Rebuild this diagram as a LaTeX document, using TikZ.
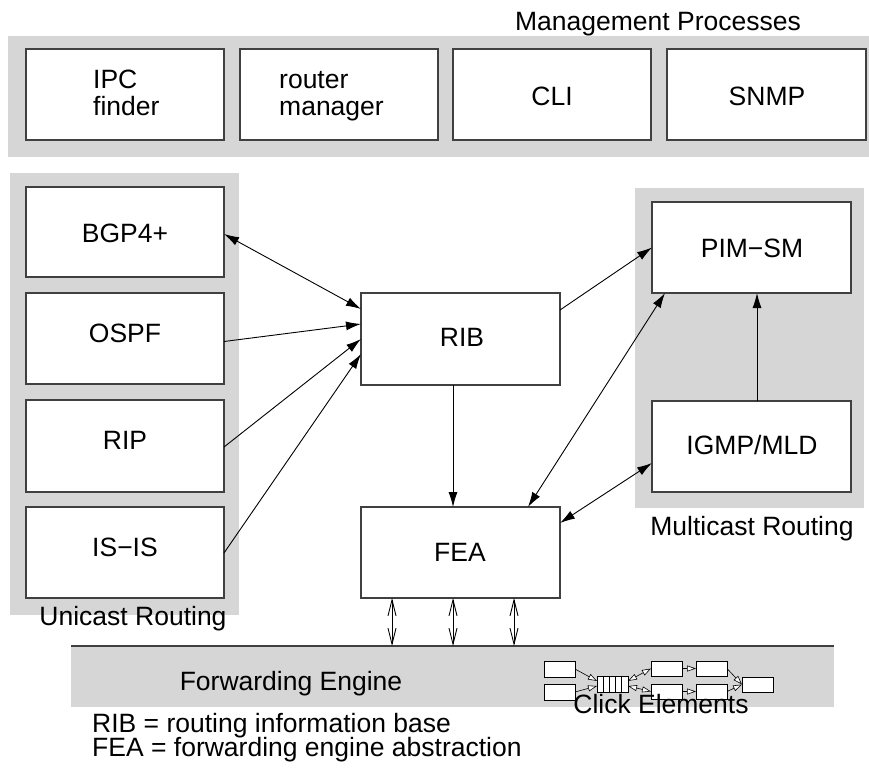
\documentclass[tikz,border=0pt]{standalone}
\usepackage{fontspec}
\setmainfont{Liberation Sans}
\usetikzlibrary{arrows.meta}
\definecolor{bandgray}{HTML}{D6D6D6}
\definecolor{edgegray}{HTML}{404040}
\begin{document}
\begin{tikzpicture}[x=1pt,y=-1pt,
  box/.style={draw=edgegray, fill=white, line width=1.1pt, inner sep=0pt, outer sep=0pt, minimum width=198pt, minimum height=91pt},
  band/.style={fill=bandgray, draw=none, inner sep=0pt, outer sep=0pt},
  lbl/.style={font=\fontsize{26.5}{27}\selectfont, inner sep=0pt, anchor=base},
  lblw/.style={font=\fontsize{26.5}{27}\selectfont, inner sep=0pt, anchor=base west},
  conn/.style={line width=0.9pt, -{Latex[length=15pt,width=9pt]}},
  dconn/.style={line width=0.9pt, {Latex[length=15pt,width=9pt]}-{Latex[length=15pt,width=9pt]}},
  barb/.style={line width=0.9pt, {Straight Barb[length=16pt,width=8pt]}-{Straight Barb[length=16pt,width=8pt]}},
  cbox/.style={draw=black, fill=white, line width=0.8pt, inner sep=0pt, outer sep=0pt, minimum width=31pt, minimum height=15pt},
  carrow/.style={line width=0.6pt, -{Triangle[fill=white, length=9pt, width=6pt]}},
  cdarrow/.style={line width=0.6pt, {Triangle[fill=white, length=9pt, width=6pt]}-{Triangle[fill=white, length=9pt, width=6pt]}},
]
\useasboundingbox (0,0) rectangle (869,770);

% background bands
\node[band, minimum width=861pt, minimum height=121pt] (mgmt) at (438.5,96.5) {};
\node[band, minimum width=229pt, minimum height=442pt] (uni) at (124.5,394) {};
\node[band, minimum width=229pt, minimum height=320pt] (multi) at (749.5,348) {};
\node[band, minimum width=763pt, minimum height=61pt] (fe) at (452.5,676.5) {};
\draw[line width=1.1pt, edgegray] (fe.north west) -- (fe.north east);

% management boxes
\node[box] (ipc) at (125,94.5) {};
\node[box] (rman) at (339,94.5) {};
\node[box] (cli) at (552,94.5) {};
\node[box, minimum width=199pt] (snmp) at (766.5,94.5) {};

% unicast boxes
\node[box, minimum height=90pt] (bgp) at (125,232) {};
\node[box] (ospf) at (125,338.5) {};
\node[box, minimum height=92pt] (rip) at (125,446) {};
\node[box] (isis) at (125,552.5) {};

% core boxes
\node[box, minimum width=199pt, minimum height=92pt] (rib) at (460.5,339) {};
\node[box, minimum width=199pt] (fea) at (460.5,552.5) {};

% multicast boxes
\node[box, minimum width=199pt] (pim) at (751.5,247.5) {};
\node[box, minimum width=199pt] (igmp) at (751.5,446.5) {};

% labels
\node[lbl] (tmgmt) at (658,31) {Management Processes};
\node[lblw] (tipc1) at (93,89) {IPC};
\node[lblw] (tipc2) at (93,116) {finder};
\node[lblw] (trm1) at (279,89) {router};
\node[lblw] (trm2) at (279,116) {manager};
\node[lbl] (tcli) at (552,106) {CLI};
\node[lbl] (tsnmp) at (767,106) {SNMP};
\node[lbl] (tbgp) at (125,242) {BGP4+};
\node[lbl] (tospf) at (125,342) {OSPF};
\node[lbl] (trip) at (125,449) {RIP};
\node[lbl] (tisis) at (125,556) {IS−IS};
\node[lbl] (trib) at (462,346) {RIB};
\node[lbl] (tfea) at (460,561) {FEA};
\node[lbl] (tpim) at (752,257) {PIM−SM};
\node[lbl] (tigmp) at (752,454) {IGMP/MLD};
\node[lbl] (tmulti) at (752,535) {Multicast Routing};
\node[lbl] (tuni) at (133,625) {Unicast Routing};
\node[lbl] (tfe) at (291,690) {Forwarding Engine};
\node[lblw] (tleg1) at (92,732) {RIB = routing information base};
\node[lblw] (tleg2) at (92,756) {FEA = forwarding engine abstraction};

% connectors
\draw[dconn] ([yshift=-2pt]bgp.east) -- ([yshift=30pt]rib.west);
\draw[conn] ([yshift=-3pt]ospf.east) -- ([yshift=15pt]rib.west);
\draw[conn] ([yshift=-1pt]rip.east) -- (rib.west);
\draw[conn] ([yshift=-0.5pt]isis.east) -- ([yshift=-15pt]rib.west);
\draw[conn] ([yshift=29pt]rib.east) -- (pim.west);
\draw[conn] ([xshift=-7.5pt]rib.south) -- ([xshift=-7.5pt]fea.north);
\draw[dconn] ([xshift=-32pt]fea.north east) -- ([xshift=13pt]pim.south west);
\draw[dconn] ([yshift=-16.5pt]igmp.west) -- ([yshift=29.5pt]fea.east);
\draw[conn] ([xshift=5.5pt]igmp.north) -- ([xshift=5.5pt]pim.south);
\foreach \dx in {-68.5,-7.5,53.5}{
  \draw[barb] ([xshift=\dx pt]fea.south) -- ([xshift=\dx pt]fea.south |- fe.north);
}

% click elements
\node[cbox, minimum height=16pt] (cl1) at (559.5,669) {};
\node[cbox, minimum height=16pt] (cl2) at (559.5,692) {};
\node[cbox, minimum height=16pt] (queue) at (612.5,684) {};
\foreach \i in {1,...,4}{
  \draw[line width=0.8pt] ([xshift=\i*6.2pt]queue.north west) -- ([xshift=\i*6.2pt]queue.south west);
}
\node[cbox] (m1) at (666.5,668.5) {};
\node[cbox] (m2) at (711.5,668.5) {};
\node[cbox] (m3) at (666.5,691.5) {};
\node[cbox] (m4) at (711.5,691.5) {};
\node[cbox] (cout) at (757.5,684.5) {};
\draw[carrow] (cl1.east) -- ([yshift=3pt]queue.west);
\draw[carrow] (cl2.east) -- ([yshift=-2pt]queue.west);
\draw[cdarrow] ([yshift=3pt]queue.east) -- (m1.west);
\draw[cdarrow] ([yshift=-2pt]queue.east) -- (m3.west);
\draw[carrow] (m1.east) -- (m2.west);
\draw[carrow] (m3.east) -- (m4.west);
\draw[carrow] (m2.east) -- (cout.west);
\draw[carrow] (m4.east) -- (cout.west);
\node[lbl] (tclick) at (661,713) {Click Elements};
\end{tikzpicture}
\end{document}
